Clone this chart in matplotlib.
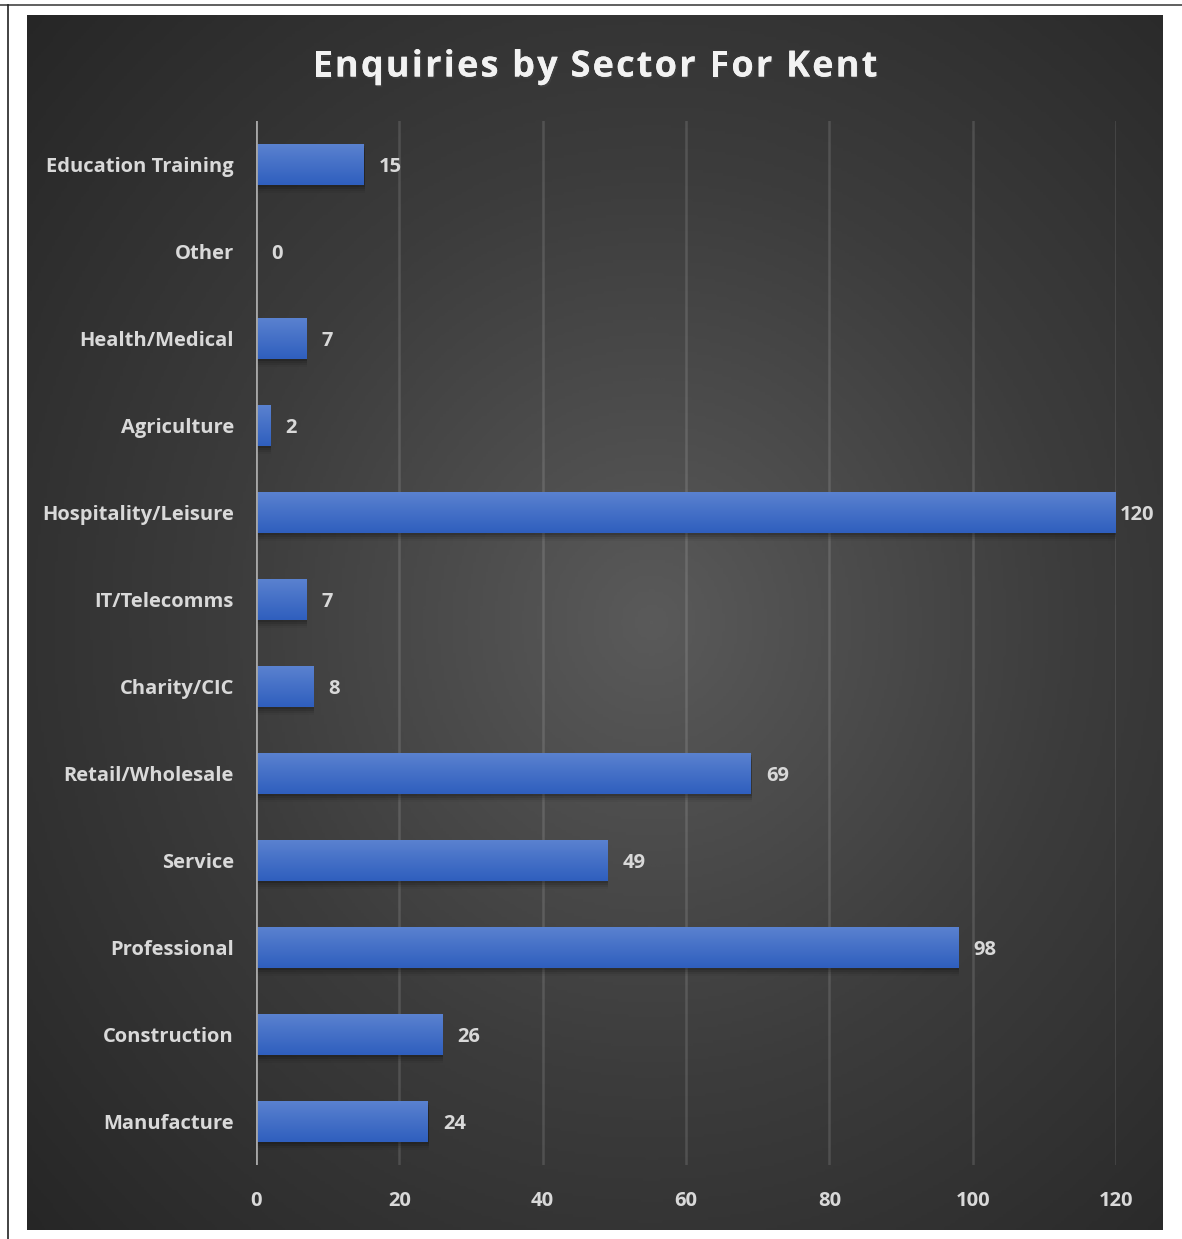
import numpy as np
import matplotlib
matplotlib.use("Agg")
import matplotlib.pyplot as plt
import matplotlib.transforms as mtransforms
import matplotlib.patheffects as pe
from matplotlib.colors import LinearSegmentedColormap
from matplotlib.lines import Line2D

# data
sectors = ["Education Training", "Other", "Health/Medical", "Agriculture",
           "Hospitality/Leisure", "IT/Telecomms", "Charity/CIC", "Retail/Wholesale",
           "Service", "Professional", "Construction", "Manufacture"]
enquiries = [15, 0, 7, 2, 120, 7, 8, 69, 49, 98, 26, 24]
xticks = [0, 20, 40, 60, 80, 100, 120]
title = "Enquiries by Sector For Kent"

FONT = "Open Sans"
W, H = 1182, 1239
fig = plt.figure(figsize=(W / 100, H / 100), dpi=100)
fig.patch.set_facecolor("white")

# outer border lines (top and left)
fig.add_artist(Line2D([0, 1], [1 - 5 / H, 1 - 5 / H], color="#444444", lw=1.2))
fig.add_artist(Line2D([7.5 / W, 7.5 / W], [0, 1 - 5 / H], color="#222222", lw=1.2))

# background with radial gradient
bg = fig.add_axes([27 / W, 9 / H, (1163 - 27) / W, (1230 - 15) / H])
bg.set_axis_off()
yy, xx = np.mgrid[0:1:400j, 0:1:400j]
r = np.sqrt(((xx - 0.55) / 0.75) ** 2 + ((yy - 0.5) / 0.75) ** 2)
r = np.clip(r, 0, 1)
bgcmap = LinearSegmentedColormap.from_list("bg", ["#5a5a5a", "#3c3c3c", "#262626"])
bg.imshow(r, cmap=bgcmap, aspect="auto", extent=(0, 1, 0, 1), vmin=0, vmax=1)
bg.set_xlim(0, 1)
bg.set_ylim(0, 1)

# title with letter spacing: place each character by hand
renderer = fig.canvas.get_renderer()
tkw = dict(fontsize=26, fontweight="bold", family=FONT)
def text_width(s):
    if not s:
        return 0.0
    t = fig.text(0, 0, s, **tkw)
    w = t.get_window_extent(renderer).width
    t.remove()
    return w
full_w = text_width(title)
target_w = 565
gap = (target_w - full_w) / (len(title) - 1)
x_start = 595 - target_w / 2
for i, ch in enumerate(title):
    if ch == " ":
        continue
    px = x_start + text_width(title[:i]) + i * gap
    fig.text(px / W, 1 - 63 / H, ch, ha="left", va="center_baseline", color="#f2f2f2",
             path_effects=[pe.withSimplePatchShadow(offset=(1, -1.5), alpha=0.5),
                           pe.Normal()], **tkw)

ax = fig.add_axes([256 / W, 74 / H, (1116 - 256) / W, (1165 - 121) / H])
ax.set_facecolor("none")
ypos = np.arange(len(sectors))

# soft shadow below bars
for dy, a in [(2, 0.12), (4, 0.10), (6, 0.07), (8, 0.04)]:
    tr = mtransforms.offset_copy(ax.transData, fig=fig, x=1, y=-dy, units="dots")
    ax.barh(ypos, enquiries, height=0.48, color="black", alpha=a, transform=tr,
            zorder=2, edgecolor="none")

bars = ax.barh(ypos, enquiries, height=0.48, color="#3f6ac6", zorder=3, edgecolor="none")
grad = np.linspace(0, 1, 64).reshape(-1, 1)
barcmap = LinearSegmentedColormap.from_list("bar", ["#5b82d0", "#2f5fbe"])
for b in bars:
    if b.get_width() <= 0:
        continue
    x0, y0 = b.get_x(), b.get_y()
    im = ax.imshow(grad, cmap=barcmap, aspect="auto", zorder=4,
                   extent=(x0, x0 + b.get_width(), y0 + b.get_height(), y0),
                   origin="upper")
    im.set_clip_path(b)

ax.set_xlim(0, 120)
ax.set_ylim(len(sectors) - 0.5, -0.5)
ax.set_xticks(xticks)
ax.set_yticks(ypos)
ax.set_yticklabels(sectors)
for s in ax.spines.values():
    s.set_visible(False)
ax.axvline(0, color="#a6a6a6", lw=2, zorder=5)
ax.grid(axis="x", color="white", alpha=0.13, lw=1.8, zorder=1)
ax.tick_params(length=0, colors="#d9d9d9", labelsize=14.5)
ax.tick_params(axis="x", pad=19)
ax.tick_params(axis="y", pad=16)
for lab in ax.get_xticklabels() + ax.get_yticklabels():
    lab.set_fontweight("bold")
    lab.set_family(FONT)
    lab.set_color("#d9d9d9")

for y, v in zip(ypos, enquiries):
    off = 3 if v == max(enquiries) else 11
    ax.annotate(str(v), (v, y), xytext=(off, 0), textcoords="offset points",
                ha="left", va="center_baseline", color="#d9d9d9", fontsize=14.5,
                fontweight="bold", family=FONT, annotation_clip=False, zorder=6)

fig.savefig("out.png", dpi=100, facecolor=fig.get_facecolor())
